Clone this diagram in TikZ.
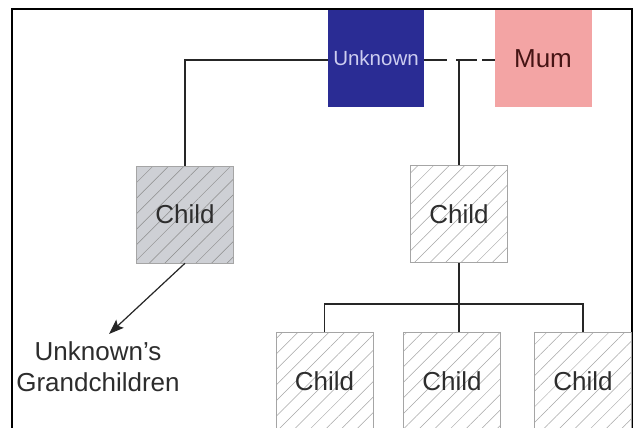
\documentclass[tikz,border=0pt]{standalone}
\usepackage{fontspec}
\setmainfont{Liberation Sans}
\usetikzlibrary{patterns.meta,arrows.meta}
\definecolor{unkblue}{RGB}{42,44,148}
\definecolor{unktext}{RGB}{205,205,240}
\definecolor{mumpink}{RGB}{243,164,164}
\definecolor{mumtext}{RGB}{70,20,20}
\definecolor{childgray}{RGB}{206,208,213}
\definecolor{boxline}{RGB}{165,165,165}
\definecolor{txtgray}{RGB}{45,45,45}
\tikzset{
  person/.style={minimum width=97pt,minimum height=97pt,inner sep=0pt,
    font=\fontsize{26}{30}\selectfont},
  childbox/.style={person,draw=boxline,line width=0.6pt,text=txtgray,
    pattern={Lines[angle=45,distance=11pt,line width=0.5pt]},pattern color=black!35},
  graybox/.style={childbox,preaction={fill=childgray},pattern color=black!45},
  link/.style={draw=black!85,line width=1.2pt},
}
\begin{document}
\begin{tikzpicture}[x=1pt,y=-1pt]
\useasboundingbox (0,0) rectangle (637,428);
\fill[white] (0,0) rectangle (637,428);
\draw[line width=1.5pt] (12,445) -- (12,9) -- (632,9) -- (632,445);
% parents
\node[person,fill=unkblue,text=unktext,font=\fontsize{20.5}{23}\selectfont,minimum width=96pt] (unk) at (376,58.5) {Unknown};
\node[person,fill=mumpink,text=mumtext] (mum) at (543,58.5) {Mum};
% children
\node[graybox] (c1) at (185,214.5) {Child};
\node[childbox] (c2) at (459,214) {Child};
% grandchildren
\node[childbox] (g1) at (324.5,381) {Child};
\node[childbox] (g2) at (452,381) {Child};
\node[childbox] (g3) at (583,381) {Child};
\node[text=txtgray,align=center,font=\fontsize{26}{31}\selectfont,inner sep=0pt] (gt) at (98,367) {Unknown's\\Grandchildren};
% connectors
\coordinate (mid) at (459,60);
\coordinate (bar) at (459,304);
\coordinate (tip) at (109,334);
\draw[link] (unk.west |- 0,60) -| (c1.north);
\draw[link,dash pattern=on 23pt off 9pt on 21pt off 5pt on 12pt off 0pt] (unk.east |- 0,60) -- (mum.west |- 0,60);
\draw[link] (mid) -- (c2.north);
\draw[link] (c2.south) -- (c2.south |- g2.north);
\draw[link] (g1.north) |- (bar) -| (g3.north);
\draw[link,line width=1.2pt,-{Stealth[length=15pt,width=11pt,inset=3pt]}] (c1.south) -- (tip);
\end{tikzpicture}
\end{document}
